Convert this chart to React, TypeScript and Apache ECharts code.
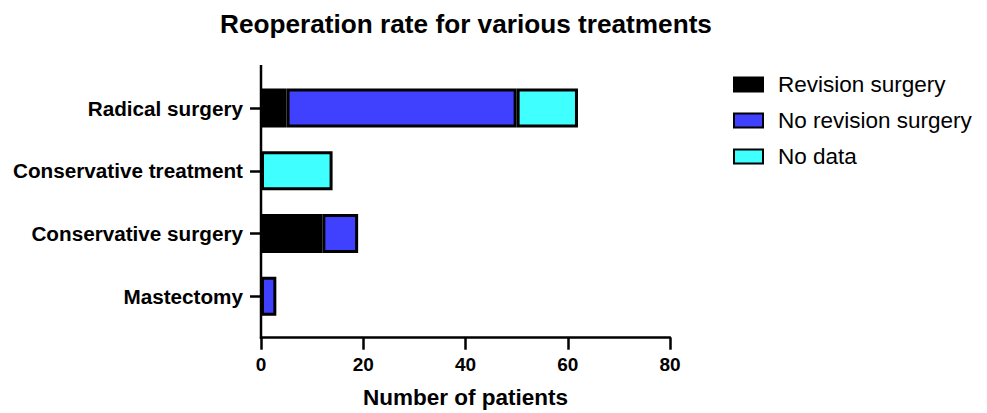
import React, { useEffect, useRef } from "react";
import * as echarts from "echarts";

const categories = ["Mastectomy", "Conservative surgery", "Conservative treatment", "Radical surgery"];
const revision = [0, 12, 0, 5];
const noRevision = [3, 7, 0, 45];
const noData = [0, 0, 14, 12];
const seriesNames = ["Revision surgery", "No revision surgery", "No data"];
const colors = ["#000000", "#4040FF", "#40FFFF"];
const xTicks = { min: 0, max: 80, interval: 20 };

const FONT = "'Liberation Sans', Arial, sans-serif";

export default function App() {
  const ref = useRef<HTMLDivElement>(null);
  useEffect(() => {
    if (!ref.current) return;
    const chart = echarts.init(ref.current, undefined, { renderer: "svg" });
    const values = [revision, noRevision, noData];
    chart.setOption({
      animation: false,
      textStyle: { fontFamily: FONT },
      title: {
        text: "Reoperation rate for various treatments",
        left: 458,
        textAlign: "center",
        top: 3,
        padding: 0,
        textStyle: { fontSize: 26.2, fontWeight: "bold", color: "#000", fontFamily: FONT },
      },
      legend: {
        orient: "vertical",
        left: 725,
        top: 65,
        padding: 0,
        icon: "rect",
        itemWidth: 29,
        itemHeight: 14,
        itemGap: 13,
        textStyle: { fontSize: 22.5, color: "#000", fontFamily: FONT, padding: [0, 0, 0, 10] },
        data: seriesNames,
      },
      grid: { left: 253, top: 68.7, width: 409, height: 251, containLabel: false, outerBoundsMode: "none" },
      xAxis: {
        type: "value",
        min: xTicks.min,
        max: xTicks.max,
        interval: xTicks.interval,
        offset: 10,
        name: "Number of patients",
        nameLocation: "middle",
        nameGap: 48,
        nameTextStyle: { fontSize: 22.5, fontWeight: "bold", color: "#000", fontFamily: FONT },
        axisLine: { show: true, lineStyle: { color: "#000", width: 2.5 } },
        axisTick: { show: true, length: 12, lineStyle: { color: "#000", width: 2.5 } },
        axisLabel: { fontSize: 19, fontWeight: "bold", color: "#000", margin: 17, fontFamily: FONT },
        splitLine: { show: false },
      },
      yAxis: {
        type: "category",
        data: categories,
        axisLine: { show: false },
        axisTick: { show: true, alignWithLabel: true, length: 11, lineStyle: { color: "#000", width: 2.5 } },
        axisLabel: { fontSize: 20.7, fontWeight: "bold", color: "#000", margin: 18, fontFamily: FONT },
      },
      graphic: [
        {
          type: "line",
          shape: { x1: 253, y1: 57, x2: 253, y2: 331 },
          style: { stroke: "#000", lineWidth: 2.5 },
          z: 100,
        },
      ],
      series: seriesNames.map((name, i) => ({
        name,
        type: "bar",
        stack: "total",
        barWidth: 39,
        data: values[i].map((v) => (v === 0 ? "-" : v)),
        itemStyle: { color: colors[i], borderColor: "#000", borderWidth: 3 },
      })),
    });
    return () => chart.dispose();
  }, []);
  return <div ref={ref} style={{ width: 979, height: 405 }} />;
}
